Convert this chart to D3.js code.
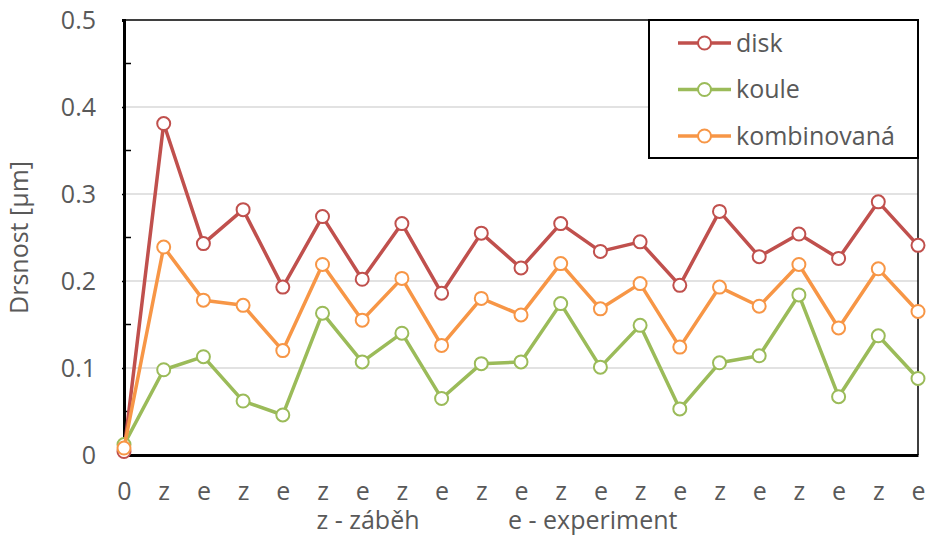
<!DOCTYPE html>
<html>
<head>
<meta charset="utf-8">
<script src="https://cdn.jsdelivr.net/npm/d3@7"></script>
<style>
  body { margin: 0; background: #fff; }
  text { font-family: "Open Sans", sans-serif; fill: #595959; }
</style>
</head>
<body>
<div id="chart"></div>
<script>
// data
var categories = ["0","z","e","z","e","z","e","z","e","z","e","z","e","z","e","z","e","z","e","z","e"];
var disk = [0.004,0.381,0.243,0.282,0.193,0.274,0.202,0.266,0.186,0.255,0.215,0.266,0.234,0.245,0.195,0.280,0.228,0.254,0.226,0.291,0.241];
var koule = [0.012,0.098,0.113,0.062,0.046,0.163,0.107,0.140,0.065,0.105,0.107,0.174,0.101,0.149,0.053,0.106,0.114,0.184,0.067,0.137,0.088];
var kombinovana = [0.008,0.239,0.178,0.172,0.120,0.219,0.155,0.203,0.126,0.180,0.161,0.220,0.168,0.197,0.124,0.193,0.171,0.219,0.146,0.214,0.165];
var seriesNames = ["disk", "koule", "kombinovaná"];
var yTicks = [0, 0.1, 0.2, 0.3, 0.4, 0.5];

var series = [
  {name: seriesNames[0], values: disk, color: "#C0504D"},
  {name: seriesNames[1], values: koule, color: "#9BBB59"},
  {name: seriesNames[2], values: kombinovana, color: "#F79646"}
];

var margin = {top: 20, right: 11, bottom: 82, left: 124},
    width = 929 - margin.left - margin.right,
    height = 537 - margin.top - margin.bottom;

var svg = d3.select("#chart")
  .append("svg")
    .attr("width", 929)
    .attr("height", 537)
  .append("g")
    .attr("transform", "translate(" + margin.left + "," + margin.top + ")");

var x = d3.scalePoint()
  .domain(d3.range(categories.length))
  .range([0, width]);

var y = d3.scaleLinear()
  .domain([0, 0.5])
  .range([height, 0]);

// gridlines
svg.selectAll("grid")
  .data(yTicks.slice(1, -1))
  .enter()
  .append("line")
    .attr("x1", 0)
    .attr("x2", width)
    .attr("y1", function(d) { return y(d); })
    .attr("y2", function(d) { return y(d); })
    .attr("stroke", "#d9d9d9")
    .attr("stroke-width", 1.5);

// frame (top + right)
svg.append("path")
  .attr("d", "M0,0H" + width + "V" + height)
  .attr("fill", "none")
  .attr("stroke", "#000")
  .attr("stroke-width", 1.5);

// minor ticks inside
svg.selectAll("minor")
  .data(d3.range(0.05, 0.5, 0.1))
  .enter()
  .append("line")
    .attr("x1", 0)
    .attr("x2", 7)
    .attr("y1", function(d) { return y(d); })
    .attr("y2", function(d) { return y(d); })
    .attr("stroke", "#000")
    .attr("stroke-width", 1.5);

// Y axis
var yAxis = svg.append("g")
  .call(d3.axisLeft(y).tickValues(yTicks).tickFormat(function(d) { return d === 0 ? "0" : d3.format(".1f")(d); }).tickSize(2).tickPadding(26));
yAxis.select(".domain").attr("stroke", "#000").attr("stroke-width", 3);
yAxis.selectAll(".tick line").attr("stroke", "#000").attr("stroke-width", 1.5);
yAxis.selectAll("text").style("font-size", "25px").style("fill", "#595959").attr("font-family", null);

// X axis
var xAxis = svg.append("g")
  .attr("transform", "translate(0," + height + ")")
  .call(d3.axisBottom(x).tickFormat(function(i) { return categories[i]; }).tickSize(0).tickPadding(27));
xAxis.select(".domain").attr("stroke", "#000").attr("stroke-width", 3);
xAxis.selectAll("text").style("font-size", "25px").style("fill", "#595959").attr("font-family", null);

// lines and markers
var line = d3.line()
  .x(function(d, i) { return x(i); })
  .y(function(d) { return y(d); });

series.forEach(function(s) {
  svg.append("path")
    .datum(s.values)
    .attr("d", line)
    .attr("fill", "none")
    .attr("stroke", s.color)
    .attr("stroke-width", 3.5)
    .attr("stroke-linejoin", "round");

  svg.selectAll("mycircle")
    .data(s.values)
    .enter()
    .append("circle")
      .attr("cx", function(d, i) { return x(i); })
      .attr("cy", function(d) { return y(d); })
      .attr("r", 6.5)
      .style("fill", "white")
      .attr("stroke", s.color)
      .attr("stroke-width", 2);
});

// axis title
svg.append("text")
  .attr("transform", "translate(" + (-96) + "," + (height / 2) + ") rotate(-90)")
  .attr("text-anchor", "middle")
  .style("font-size", "25px")
  .text("Drsnost [µm]");

// category notes under the axis
svg.append("text")
  .attr("x", x(5) - 6)
  .attr("y", height + 74)
  .style("font-size", "25px")
  .text("z - záběh");
svg.append("text")
  .attr("x", x(10) - 13)
  .attr("y", height + 74)
  .style("font-size", "25px")
  .text("e - experiment");

// legend
var legend = svg.append("g")
  .attr("transform", "translate(" + (width - 269) + ",0)");
legend.append("rect")
  .attr("width", 269)
  .attr("height", 138)
  .attr("fill", "white")
  .attr("stroke", "#000")
  .attr("stroke-width", 2);

series.forEach(function(s, i) {
  var row = legend.append("g").attr("transform", "translate(0," + (23 + i * 46.5) + ")");
  row.append("line")
    .attr("x1", 29).attr("x2", 82)
    .attr("stroke", s.color)
    .attr("stroke-width", 3.5);
  row.append("circle")
    .attr("cx", 55.5)
    .attr("r", 6.5)
    .style("fill", "white")
    .attr("stroke", s.color)
    .attr("stroke-width", 2);
  row.append("text")
    .attr("x", 87)
    .attr("dy", "0.35em")
    .style("font-size", "25px")
    .text(s.name);
});
</script>
</body>
</html>
